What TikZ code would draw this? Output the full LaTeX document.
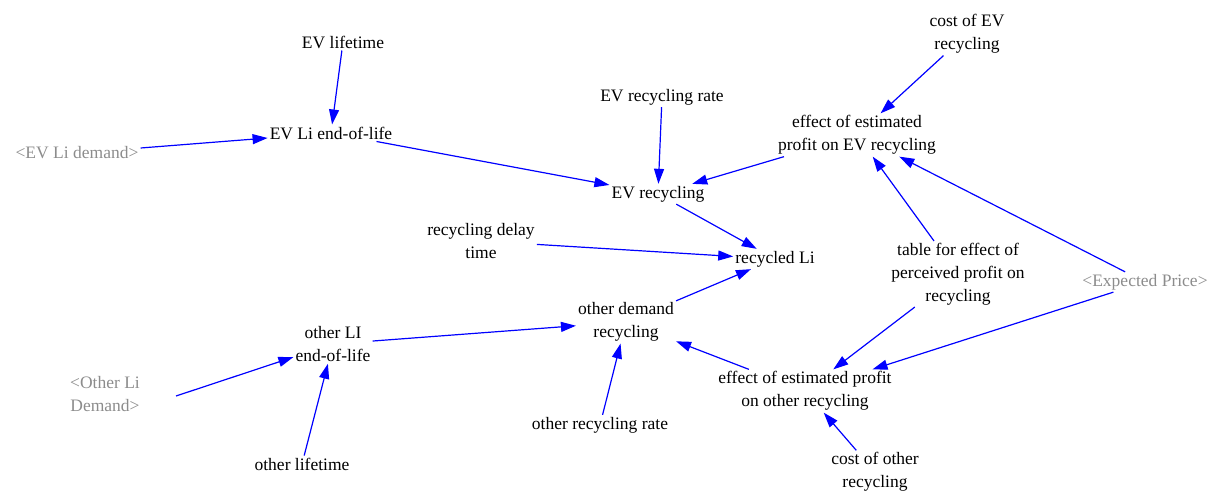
\documentclass[tikz,border=0pt]{standalone}
\usepackage{fontspec}
\setmainfont{Liberation Serif}
\usetikzlibrary{arrows.meta}
\definecolor{linkblue}{RGB}{0,0,255}
\definecolor{ghostgray}{RGB}{140,140,140}
\begin{document}
\begin{tikzpicture}[x=1pt,y=-1pt,
  var/.style={inner sep=2pt, align=center, font=\fontsize{17.5}{22.8}\selectfont},
  ghostvar/.style={var, text=ghostgray},
  link/.style={draw=linkblue, line width=1.2pt, -{Triangle[length=15pt,width=10pt]}}]
\useasboundingbox (0,0) rectangle (1220,492);

% variables
\node[var] (evlife) at (343,42) {EV lifetime};
\node[var] (costev) at (967,34) {cost of EV\\recycling};
\node[var] (evrate) at (662,97) {EV recycling rate};
\node[ghostvar] (evdem) at (77,153) {<EV Li demand>};
\node[var] (eveol) at (331,133) {EV Li end-of-life};
\node[var] (effev) at (857,135) {effect of estimated\\profit on EV recycling};
\node[var] (evrec) at (658,194) {EV recycling};
\node[var] (delay) at (481,241) {recycling delay\\time};
\node[var] (recli) at (775,259) {recycled Li};
\node[var] (table) at (958,274) {table for effect of\\perceived profit on\\recycling};
\node[ghostvar] (price) at (1145,282) {<Expected Price>};
\node[var] (othrec) at (626,322) {other demand\\recycling};
\node[var] (otheol) at (333,344) {other LI\\end-of-life};
\node[var] (effoth) at (805,391) {effect of estimated profit\\on other recycling};
\node[ghostvar] (othdem) at (105,394) {<Other Li\\Demand>};
\node[var] (othrate) at (600,425) {other recycling rate};
\node[var] (othlife) at (302,464) {other lifetime};
\node[var] (costoth) at (875,472) {cost of other\\recycling};

% causal links
\draw[link] (evlife) -- (eveol);
\draw[link] (evdem) -- (eveol);
\draw[link] (eveol) -- (evrec);
\draw[link] (evrate) -- (evrec);
\draw[link] (effev) -- (evrec);
\draw[link] (costev) -- (effev);
\draw[link] (table) -- (effev);
\draw[link] (price) -- (effev);
\draw[link] (evrec) -- (recli);
\draw[link] (delay) -- (recli);
\draw[link] (othrec) -- (recli);
\draw[link] (otheol) -- (othrec);
\draw[link] (othrate) -- (othrec);
\draw[link] (effoth) -- (othrec);
\draw[link] (table) -- (effoth);
\draw[link] (price) -- (effoth);
\draw[link] (costoth) -- (effoth);
\draw[link] ([shift={(34,2)}]othdem.east) -- (otheol);
\draw[link] (othlife) -- (otheol);
\end{tikzpicture}
\end{document}
